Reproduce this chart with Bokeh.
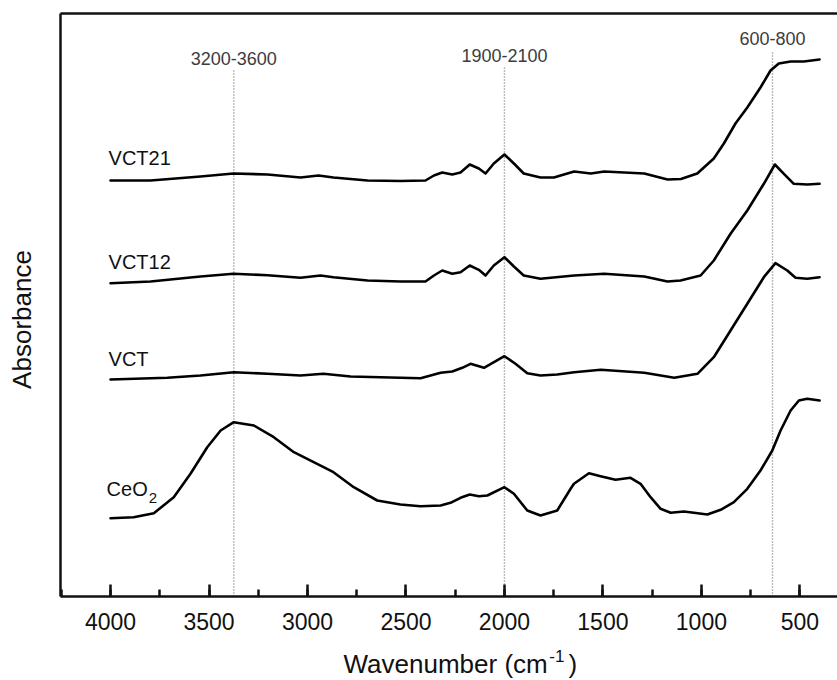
import math

from bokeh.plotting import figure
from bokeh.models import Range1d, LinearAxis, FixedTicker, SingleIntervalTicker, Label
from bokeh.embed import file_html
from bokeh.resources import INLINE

# ---- FTIR spectra (wavenumber in cm^-1, absorbance offset in a.u.) ----
wn_vct21 = [4000, 3797, 3543, 3376, 3203, 3035, 2944, 2868, 2695, 2528, 2401, 2358, 2316,
            2265, 2223, 2176, 2130, 2096, 2054, 2000, 1952, 1902, 1817, 1749, 1646, 1561,
            1493, 1392, 1290, 1172, 1104, 1021, 937, 886, 827, 767, 700, 649, 607, 547, 480, 400]
ab_vct21 = [4.16, 4.16, 4.20, 4.23, 4.22, 4.19, 4.21, 4.19, 4.16, 4.155, 4.16, 4.21, 4.24,
            4.22, 4.24, 4.32, 4.28, 4.23, 4.33, 4.42, 4.33, 4.23, 4.19, 4.19, 4.25, 4.23,
            4.25, 4.24, 4.23, 4.17, 4.175, 4.23, 4.38, 4.53, 4.73, 4.89, 5.09, 5.26, 5.33, 5.35, 5.35, 5.37]

wn_vct12 = [4000, 3797, 3543, 3376, 3203, 3035, 2934, 2868, 2695, 2528, 2401, 2358, 2316,
            2265, 2223, 2176, 2130, 2096, 2054, 2000, 1952, 1902, 1817, 1646, 1493, 1290,
            1172, 1106, 1004, 937, 852, 767, 683, 627, 581, 531, 463, 400]
ab_vct12 = [3.133, 3.15, 3.20, 3.227, 3.213, 3.187, 3.21, 3.193, 3.16, 3.15, 3.15, 3.21, 3.26,
            3.227, 3.243, 3.31, 3.267, 3.21, 3.31, 3.393, 3.30, 3.21, 3.177, 3.21, 3.227, 3.20,
            3.15, 3.16, 3.21, 3.36, 3.627, 3.86, 4.127, 4.32, 4.227, 4.127, 4.12, 4.127]

wn_vct = [4000, 3712, 3543, 3374, 3203, 3035, 2919, 2781, 2528, 2426, 2324, 2265, 2214, 2172,
          2104, 2062, 2000, 1944, 1884, 1817, 1732, 1646, 1511, 1290, 1138, 1020, 937, 852,
          767, 683, 624, 564, 522, 463, 400]
ab_vct = [2.17, 2.187, 2.21, 2.243, 2.227, 2.21, 2.227, 2.20, 2.187, 2.183, 2.237, 2.25, 2.287,
          2.327, 2.287, 2.333, 2.403, 2.327, 2.233, 2.21, 2.22, 2.243, 2.267, 2.237, 2.187,
          2.227, 2.393, 2.66, 2.927, 3.193, 3.333, 3.26, 3.187, 3.177, 3.193]

wn_ceo2 = [4000, 3883, 3780, 3679, 3594, 3509, 3441, 3374, 3272, 3171, 3069, 2951, 2868, 2765,
           2646, 2528, 2426, 2324, 2274, 2223, 2176, 2130, 2087, 2000, 1952, 1884, 1817, 1732,
           1664, 1647, 1571, 1512, 1436, 1360, 1309, 1258, 1207, 1156, 1089, 1038, 970, 902,
           835, 767, 700, 640, 598, 547, 505, 463, 400]
ab_ceo2 = [0.783, 0.793, 0.833, 0.993, 1.227, 1.493, 1.66, 1.743, 1.71, 1.593, 1.443, 1.327,
           1.243, 1.093, 0.96, 0.92, 0.903, 0.91, 0.937, 0.987, 1.02, 1.003, 1.01, 1.093, 1.027,
           0.86, 0.81, 0.86, 1.077, 1.127, 1.233, 1.203, 1.167, 1.187, 1.127, 0.993, 0.877,
           0.837, 0.85, 0.837, 0.82, 0.867, 0.943, 1.077, 1.26, 1.46, 1.66, 1.86, 1.96, 1.977, 1.96]

# marked absorption bands: centre wavenumber and range text
band_centres = [3374, 2000, 639]
band_texts = ["3200-3600", "1900-2100", "600-800"]

FONT = "Liberation Sans"
INK = "#111111"

p = figure(width=837, height=680,
           x_range=Range1d(4254, 309), y_range=Range1d(0, 5.83),
           x_axis_location=None, y_axis_location=None,
           output_backend="svg", toolbar_location=None,
           min_border_left=60, min_border_right=0, min_border_top=13, min_border_bottom=84)
p.outline_line_color = None
p.xgrid.visible = False
p.ygrid.visible = False
p.background_fill_color = "white"
p.border_fill_color = "white"

# bottom wavenumber axis with inward ticks
xaxis = LinearAxis(ticker=SingleIntervalTicker(interval=500, num_minor_ticks=2))
xaxis.axis_line_width = 2.5
xaxis.axis_line_color = INK
xaxis.major_tick_in = 12
xaxis.major_tick_out = 0
xaxis.minor_tick_in = 7
xaxis.minor_tick_out = 0
xaxis.major_tick_line_width = 2.5
xaxis.minor_tick_line_width = 2.5
xaxis.major_tick_line_color = INK
xaxis.minor_tick_line_color = INK
xaxis.major_label_text_font = FONT
xaxis.major_label_text_font_size = "23px"
xaxis.major_label_text_color = INK
xaxis.major_label_standoff = 16
p.add_layout(xaxis, "below")

# plain frame lines on the left and top
for side in ("left", "above"):
    ax = LinearAxis(ticker=FixedTicker(ticks=[]))
    ax.axis_line_width = 2.5
    ax.axis_line_color = INK
    ax.major_tick_in = 0
    ax.major_tick_out = 0
    ax.minor_tick_in = 0
    ax.minor_tick_out = 0
    ax.major_label_text_font_size = "0px"
    ax.major_label_standoff = 0
    p.add_layout(ax, side)

# dotted guide lines for the bands
band_tops = [5.26, 5.29, 5.46]
p.segment(x0=band_centres, y0=[0] * 3, x1=band_centres, y1=band_tops,
          line_color="#777777", line_width=1.4, line_dash="1 2")

for x, t, yb in zip(band_centres, band_texts, [5.38, 5.413, 5.583]):
    p.add_layout(Label(x=x, y=yb, text=t, text_align="center", text_baseline="alphabetic",
                       text_font=FONT, text_font_size="18px", text_color="#3c3c3c"))

# spectra
for wn, ab in ((wn_vct21, ab_vct21), (wn_vct12, ab_vct12), (wn_vct, ab_vct), (wn_ceo2, ab_ceo2)):
    p.line(wn, ab, line_color="black", line_width=2.6, line_join="round", line_cap="round")

# sample names
for name, yb in (("VCT21", 4.39), ("VCT12", 3.347), ("VCT", 2.373)):
    p.add_layout(Label(x=4010, y=yb, text=name, text_align="left", text_baseline="alphabetic",
                       text_font=FONT, text_font_size="20px", text_color=INK))
p.add_layout(Label(x=4020, y=1.073, text="CeO", text_align="left", text_baseline="alphabetic",
                   text_font=FONT, text_font_size="20px", text_color=INK))
p.add_layout(Label(x=3806, y=0.983, text="2", text_align="left", text_baseline="alphabetic",
                   text_font=FONT, text_font_size="15px", text_color=INK))

# axis titles live in the side panels so they are drawn outside the frame
# (the bottom panel only has room for two of the pieces, the rest go left)
p.add_layout(Label(x=2817, y=-0.677, text="Wavenumber (cm", text_align="left",
                   text_baseline="alphabetic", text_font=FONT, text_font_size="26px",
                   text_color=INK), "below")
p.add_layout(Label(x=1772, y=-0.59, text="-1", text_align="left",
                   text_baseline="alphabetic", text_font=FONT, text_font_size="17px",
                   text_color=INK), "below")
p.add_layout(Label(x=1675, y=-0.677, text=")", text_align="left",
                   text_baseline="alphabetic", text_font=FONT, text_font_size="26px",
                   text_color=INK), "left")
p.add_layout(Label(x=4447, y=2.77, text="Absorbance", angle=math.pi / 2, text_align="center",
                   text_baseline="alphabetic", text_font=FONT, text_font_size="26px",
                   text_color=INK), "left")

open("out.html", "w").write(file_html(p, INLINE))
